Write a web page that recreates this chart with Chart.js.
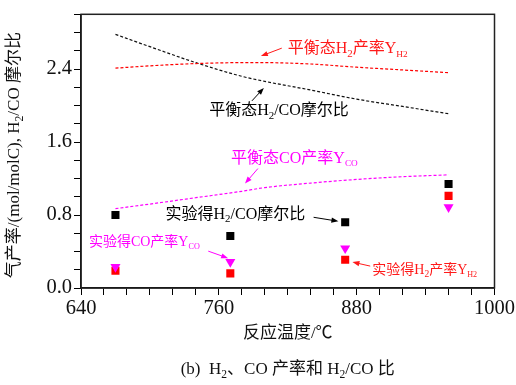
<!DOCTYPE html>
<html>
<head>
<meta charset="utf-8">
<script src="https://cdn.jsdelivr.net/npm/chart.js@4.4.1/dist/chart.umd.min.js"></script>
<style>
  html, body { margin: 0; padding: 0; background: #fff; }
  #wrap { width: 516px; height: 385px; }
</style>
</head>
<body>
<div id="wrap"><canvas id="c"></canvas></div>
<script>
/* ---- Data ---------------------------------------------------------------- */

// equilibrium curves (temperature in °C)
const eqTemps = [670, 700, 740, 780, 800, 840, 880, 920, 960];
const eqRatio = [2.78, 2.645, 2.47, 2.32, 2.265, 2.17, 2.07, 1.99, 1.91];
const eqH2    = [2.41, 2.435, 2.46, 2.47, 2.47, 2.455, 2.42, 2.39, 2.36];
const eqCO    = [0.87, 0.92, 0.99, 1.06, 1.10, 1.15, 1.19, 1.22, 1.24];

// experimental points
const expTemps = [670, 770, 870, 960];
const expRatio = [0.80, 0.57, 0.72, 1.14];
const expH2    = [0.19, 0.16, 0.31, 1.01];
const expCO    = [0.23, 0.285, 0.435, 0.885];

const xTickLabels = [640, 760, 880, 1000];
const yTickLabels = [0.0, 0.8, 1.6, 2.4];

/* ---- Styling helpers ----------------------------------------------------- */

const SERIF = '"Liberation Serif", "Noto Sans CJK SC", serif';
const RED = "#ff1a1a";
const MAGENTA = "#ff00ff";
const BLACK = "#000";

const pts = (xs, ys) => xs.map((x, i) => ({ x, y: ys[i] }));

// annotation labels, anchored in data coordinates
const notes = [
  { parts: [["平衡态H"], ["2", 1], ["产率Y"], ["H2", 2]], color: RED, size: 16,
    at: [820, 2.618], arrow: [[814.8, 2.629], [796.6, 2.542]] },
  { parts: [["平衡态H"], ["2", 1], ["/CO摩尔比"]], color: BLACK, size: 16,
    at: [751.6, 1.942], arrow: [[788.8, 2.051], [799.2, 2.193]] },
  { parts: [["平衡态CO产率Y"], ["CO", 2]], color: MAGENTA, size: 16,
    at: [770.7, 1.418], arrow: [[794.0, 1.309], [782.8, 1.145]] },
  { parts: [["实验得H"], ["2", 1], ["/CO摩尔比"]], color: BLACK, size: 16,
    at: [713.6, 0.807], arrow: [[842.5, 0.775], [864.1, 0.731]] },
  { parts: [["实验得CO产率Y"], ["CO", 2]], color: MAGENTA, size: 14,
    at: [646.9, 0.502], arrow: [[750.8, 0.404], [768.1, 0.327]] },
  { parts: [["实验得H"], ["2", 1], ["产率Y"], ["H2", 2]], color: RED, size: 14,
    at: [893.6, 0.196], arrow: [[891.8, 0.24], [876.3, 0.284]] },
];

function drawRich(ctx, parts, x, y, size, color, align) {
  const segs = parts.map(([t, s]) => {
    const fs = s ? size * (s === 2 ? 0.58 : 0.68) : size;
    ctx.font = `${fs}px ${SERIF}`;
    return { t, fs, dy: s ? size * 0.32 : 0, w: ctx.measureText(t).width };
  });
  const total = segs.reduce((a, s) => a + s.w, 0);
  let cx = align === "center" ? x - total / 2 : x;
  ctx.fillStyle = color;
  ctx.textBaseline = "middle";
  ctx.textAlign = "left";
  segs.forEach((s) => {
    ctx.font = `${s.fs}px ${SERIF}`;
    ctx.fillText(s.t, cx, y + s.dy);
    cx += s.w;
  });
}

function drawArrow(ctx, x1, y1, x2, y2, color) {
  const a = Math.atan2(y2 - y1, x2 - x1);
  const L = 7, W = 2.6;
  const c = Math.cos(a), s = Math.sin(a);
  ctx.strokeStyle = color;
  ctx.fillStyle = color;
  ctx.lineWidth = 1;
  ctx.beginPath();
  ctx.moveTo(x1, y1);
  ctx.lineTo(x2 - c * L * 0.8, y2 - s * L * 0.8);
  ctx.stroke();
  ctx.beginPath();
  ctx.moveTo(x2, y2);
  ctx.lineTo(x2 - L * c + W * s, y2 - L * s - W * c);
  ctx.lineTo(x2 - L * c - W * s, y2 - L * s + W * c);
  ctx.closePath();
  ctx.fill();
}

/* ---- Plugin: frame, labels, titles --------------------------------------- */

const decorations = {
  id: "decorations",
  afterDraw(chart) {
    const { ctx, chartArea: ca, scales } = chart;
    const X = scales.x, Y = scales.y;
    ctx.save();

    ctx.strokeStyle = "#222";
    ctx.lineWidth = 1.5;
    ctx.strokeRect(ca.left, ca.top, ca.right - ca.left, ca.bottom - ca.top);

    notes.forEach((n) => {
      const [a, b] = n.arrow;
      drawArrow(ctx, X.getPixelForValue(a[0]), Y.getPixelForValue(a[1]),
        X.getPixelForValue(b[0]), Y.getPixelForValue(b[1]), n.color);
      drawRich(ctx, n.parts, X.getPixelForValue(n.at[0]), Y.getPixelForValue(n.at[1]),
        n.size, n.color, "left");
    });

    const midX = (ca.left + ca.right) / 2;
    drawRich(ctx, [["反应温度/℃"]], midX, ca.bottom + 46, 17, "#111", "center");
    drawRich(ctx, [["(b)  H"], ["2", 1], ["、CO 产率和 H"], ["2", 1], ["/CO 比"]],
      midX, ca.bottom + 82, 17, "#111", "center");

    ctx.translate(15, (ca.top + ca.bottom) / 2 + 4);
    ctx.rotate(-Math.PI / 2);
    drawRich(ctx, [["气产率/(mol/molC), H"], ["2", 1], ["/CO 摩尔比"]], 0, 0, 17, "#111", "center");

    ctx.restore();
  },
};

/* ---- Chart --------------------------------------------------------------- */

const markerBase = { showLine: false, borderWidth: 0 };
const eqBase = { pointRadius: 0, borderWidth: 1.2, borderDash: [3, 2], cubicInterpolationMode: "monotone", fill: false };

new Chart(document.getElementById("c"), {
  type: "line",
  data: {
    datasets: [
      { ...markerBase, label: "实验得CO产率", data: pts(expTemps, expCO),
        pointStyle: "triangle", rotation: 180, pointRadius: 5.8,
        backgroundColor: MAGENTA, borderColor: MAGENTA },
      { ...markerBase, label: "实验得H2产率", data: pts(expTemps, expH2),
        pointStyle: "rect", pointRadius: 5.7, backgroundColor: "red", borderColor: "red" },
      { ...markerBase, label: "实验得H2/CO", data: pts(expTemps, expRatio),
        pointStyle: "rect", pointRadius: 5.7, backgroundColor: BLACK, borderColor: BLACK },
      { ...eqBase, label: "平衡态H2产率", data: pts(eqTemps, eqH2), borderColor: "red" },
      { ...eqBase, label: "平衡态H2/CO", data: pts(eqTemps, eqRatio), borderColor: "#111" },
      { ...eqBase, label: "平衡态CO产率", data: pts(eqTemps, eqCO), borderColor: MAGENTA },
    ],
  },
  options: {
    responsive: true,
    maintainAspectRatio: false,
    animation: false,
    layout: { padding: { top: 13, right: 19, left: 0, bottom: 0 } },
    plugins: { legend: { display: false }, tooltip: { enabled: false } },
    scales: {
      x: {
        type: "linear",
        min: 640,
        max: 1000,
        afterFit: (s) => { s.height = 97; },
        border: { display: true, color: BLACK, width: 1.5 },
        grid: { drawOnChartArea: false, drawTicks: true, tickLength: 7, color: BLACK },
        ticks: {
          stepSize: 20,
          autoSkip: false,
          maxRotation: 0,
          padding: 1,
          color: "#111",
          font: { family: SERIF, size: 20.5 },
          callback: (v) => (xTickLabels.includes(v) ? String(v) : ""),
        },
      },
      y: {
        min: 0,
        max: 3.0,
        afterFit: (s) => { s.width = 81; },
        border: { display: true, color: BLACK, width: 1.5 },
        grid: { drawOnChartArea: false, drawTicks: true, tickLength: 7, color: BLACK },
        ticks: {
          stepSize: 0.2,
          autoSkip: false,
          padding: 2,
          color: "#111",
          font: { family: SERIF, size: 20.5 },
          callback: (v) => {
            const hit = yTickLabels.find((t) => Math.abs(t - v) < 1e-6);
            return hit === undefined ? "" : hit.toFixed(1);
          },
        },
      },
    },
  },
  plugins: [decorations],
});
</script>
</body>
</html>
